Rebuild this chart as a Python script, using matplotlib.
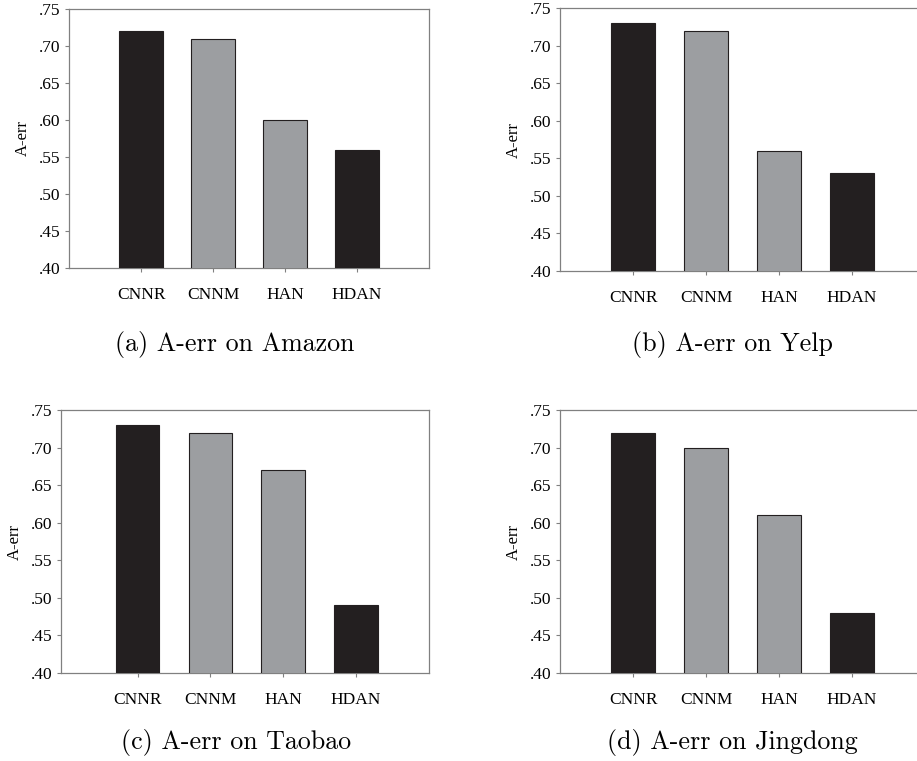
import matplotlib
matplotlib.use('Agg')
import matplotlib.pyplot as plt

# A-err per model on each dataset
models = ['CNNR', 'CNNM', 'HAN', 'HDAN']
amazon = [0.72, 0.71, 0.60, 0.56]
yelp = [0.73, 0.72, 0.56, 0.53]
taobao = [0.73, 0.72, 0.67, 0.49]
jingdong = [0.72, 0.70, 0.61, 0.48]
captions = ['(a) A-err on Amazon', '(b) A-err on Yelp',
            '(c) A-err on Taobao', '(d) A-err on Jingdong']
yticks = [0.40, 0.45, 0.50, 0.55, 0.60, 0.65, 0.70, 0.75]

DARK = '#231f20'
GREY = '#9c9ea1'
FRAME = '#808080'
bar_colors = [DARK, GREY, GREY, DARK]

W, H = 917, 761
fig = plt.figure(figsize=(W / 100, H / 100), dpi=100)


def px_axes(left, right, top, bottom):
    """Add axes given pixel edges (origin top-left)."""
    return fig.add_axes([left / W, 1 - bottom / H, (right - left) / W, (bottom - top) / H])


def draw_panel(ax, values, xlim, show_right=True):
    x = range(1, len(models) + 1)
    ax.bar(x, values, width=0.6, color=bar_colors, edgecolor=DARK, linewidth=0.8, zorder=3)
    ax.set_xlim(*xlim)
    ax.set_ylim(0.40, 0.75)
    ax.set_xticks(list(x))
    ax.set_xticklabels(models, fontfamily='Liberation Serif', fontsize=12.5)
    ax.set_yticks(yticks)
    ax.set_yticklabels(['.%02d' % round(v * 100) for v in yticks],
                       fontfamily='Liberation Serif', fontsize=12.5)
    ax.tick_params(axis='both', direction='out', length=3, width=0.8, color=FRAME)
    ax.tick_params(axis='x', pad=11)
    ax.tick_params(axis='y', pad=3)
    for name, sp in ax.spines.items():
        sp.set_color(FRAME)
        sp.set_linewidth(0.9)
    ax.spines['right'].set_visible(show_right)
    ax.set_ylabel('A-err', fontfamily='Liberation Serif', fontsize=12, labelpad=6)


ax_a = px_axes(69, 429, 9, 268)
draw_panel(ax_a, amazon, (0, 5))

ax_b = px_axes(560, 925, 8, 271)
draw_panel(ax_b, yelp, (0, 5), show_right=False)

ax_c = px_axes(61, 429, 410, 673)
draw_panel(ax_c, taobao, (-0.05, 5))

ax_d = px_axes(560, 925, 410, 673)
draw_panel(ax_d, jingdong, (0, 5), show_right=False)

# sub-figure captions
cap_pos = [(235, 345), (732, 345), (236, 742), (732, 742)]
for text, (cx, cy) in zip(captions, cap_pos):
    fig.text(cx / W, 1 - cy / H, text, ha='center', va='center',
             fontfamily='cmr10', fontsize=18.7)

fig.savefig('out.png', dpi=100)
